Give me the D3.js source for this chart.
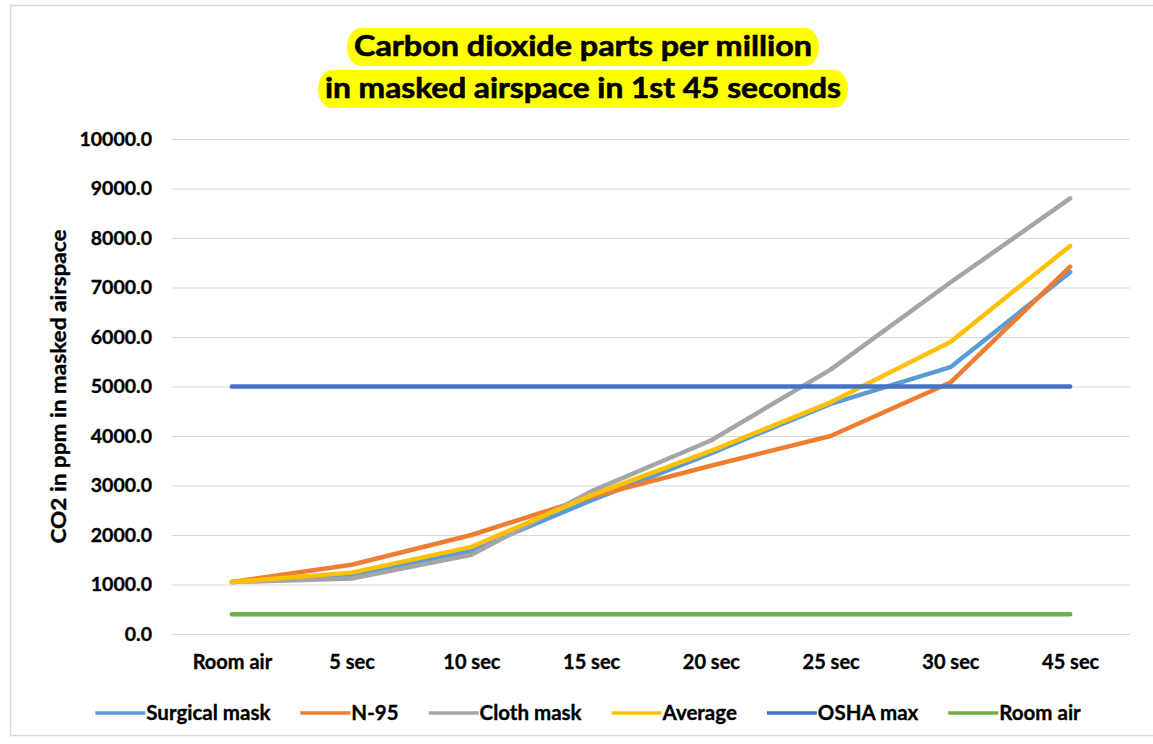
<!DOCTYPE html>
<html>
<head>
<meta charset="utf-8">
<script src="https://cdn.jsdelivr.net/npm/d3@7"></script>
<style>
  html, body { margin: 0; padding: 0; background: #fff; }
  svg { display: block; font-family: Lato, "Open Sans", sans-serif; }
  .lbl { fill: #000; stroke: #000; stroke-width: 0.35px; font-weight: 700; }
</style>
</head>
<body>
<svg id="chart" width="1153" height="744"></svg>
<script>
// Sample times along the x axis
const categories = ["Room air", "5 sec", "10 sec", "15 sec", "20 sec", "25 sec", "30 sec", "45 sec"];

// CO2 concentration (ppm) inside the masked airspace
const surgicalMask = [1050, 1170, 1680, 2700, 3650, 4650, 5390, 7310];
const n95          = [1050, 1400, 2000, 2770, 3400, 4000, 5080, 7420];
const clothMask    = [1050, 1120, 1600, 2880, 3910, 5340, 7100, 8800];
const average      = [1050, 1240, 1760, 2800, 3700, 4680, 5900, 7840];
const oshaMax      = [5000, 5000, 5000, 5000, 5000, 5000, 5000, 5000];
const roomAir      = [400, 400, 400, 400, 400, 400, 400, 400];

const seriesNames = ["Surgical mask", "N-95", "Cloth mask", "Average", "OSHA max", "Room air"];
const seriesValues = [surgicalMask, n95, clothMask, average, oshaMax, roomAir];
const seriesColors = ["#5B9BD5", "#ED7D31", "#A5A5A5", "#FFC000", "#4472C4", "#70AD47"];

const yTicks = [0, 1000, 2000, 3000, 4000, 5000, 6000, 7000, 8000, 9000, 10000];

const titleLines = ["Carbon dioxide parts per million", "in masked airspace in 1st 45 seconds"];
const yAxisTitle = "CO2 in ppm in masked airspace";

const svg = d3.select("#chart");

// chart frame
svg.append("rect")
  .attr("x", 10.5).attr("y", 5.5)
  .attr("width", 1150).attr("height", 730)
  .attr("fill", "#fff").attr("stroke", "#d9d9d9").attr("stroke-width", 1.5);

const plot = { left: 172, right: 1130, top: 139, bottom: 634 };

const x = d3.scalePoint().domain(categories).range([plot.left, plot.right]).padding(0.5);
const y = d3.scaleLinear().domain([0, 10000]).range([plot.bottom, plot.top]);

// title with highlighted background
const titleY = [47, 89];
const titleWidths = [458, 516];
titleLines.forEach((t, i) => {
  const g = svg.append("g");
  const hw = titleWidths[i] / 2 + 7;
  g.append("rect")
    .attr("x", 583 - hw).attr("y", titleY[i] - 19)
    .attr("width", hw * 2).attr("height", 38)
    .attr("rx", 14).attr("ry", 19)
    .attr("fill", "#FFFF00");
  g.append("text")
    .attr("class", "lbl")
    .attr("x", 583).attr("y", titleY[i] + 9)
    .attr("text-anchor", "middle")
    .attr("font-size", 28)
    .attr("textLength", titleWidths[i]).attr("lengthAdjust", "spacingAndGlyphs")
    .style("stroke-width", "0.6px")
    .text(t);
});

// horizontal gridlines + y axis labels
const yAxis = d3.axisLeft(y).tickValues(yTicks).tickFormat(d3.format(".1f"))
  .tickSize(-(plot.right - plot.left)).tickPadding(20);
const yG = svg.append("g").attr("transform", `translate(${plot.left},0)`).call(yAxis);
yG.select(".domain").remove();
yG.selectAll(".tick line").attr("stroke", "#d9d9d9").attr("stroke-width", 1.2);
yG.selectAll(".tick text")
  .attr("class", "lbl")
  .attr("font-family", "Lato, sans-serif")
  .attr("font-size", 19.5);

// x axis labels
const xAxis = d3.axisBottom(x).tickSize(0).tickPadding(21);
const xG = svg.append("g").attr("transform", `translate(0,${plot.bottom})`).call(xAxis);
xG.select(".domain").remove();
xG.selectAll(".tick text")
  .attr("class", "lbl")
  .attr("font-family", "Lato, sans-serif")
  .attr("font-size", 20);

// y axis title
svg.append("text")
  .attr("class", "lbl")
  .attr("transform", `translate(66,${(plot.top + plot.bottom) / 2}) rotate(-90)`)
  .attr("text-anchor", "middle")
  .attr("font-size", 20)
  .attr("textLength", 314).attr("lengthAdjust", "spacingAndGlyphs")
  .text(yAxisTitle);

// series lines
const line = d3.line().x((d, i) => x(categories[i])).y(d => y(d));
seriesValues.forEach((vals, i) => {
  svg.append("path")
    .datum(vals)
    .attr("d", line)
    .attr("fill", "none")
    .attr("stroke", seriesColors[i])
    .attr("stroke-width", 4.5)
    .attr("stroke-linejoin", "round")
    .attr("stroke-linecap", "round");
});

// legend
const legend = svg.append("g");
let cx = 0;
seriesNames.forEach((name, i) => {
  const g = legend.append("g");
  g.append("line").attr("x1", 0).attr("x2", 50).attr("y1", 0).attr("y2", 0)
    .attr("stroke", seriesColors[i]).attr("stroke-width", 3.5);
  const t = g.append("text").attr("class", "lbl").attr("x", 51).attr("y", 7)
    .attr("font-size", 20.5).text(name);
  const w = 51 + t.node().getComputedTextLength();
  g.attr("transform", `translate(${cx},0)`);
  cx += w + 30;
});
const totalW = cx - 30;
legend.attr("transform", `translate(${588 - totalW / 2},713)`);
</script>
</body>
</html>
